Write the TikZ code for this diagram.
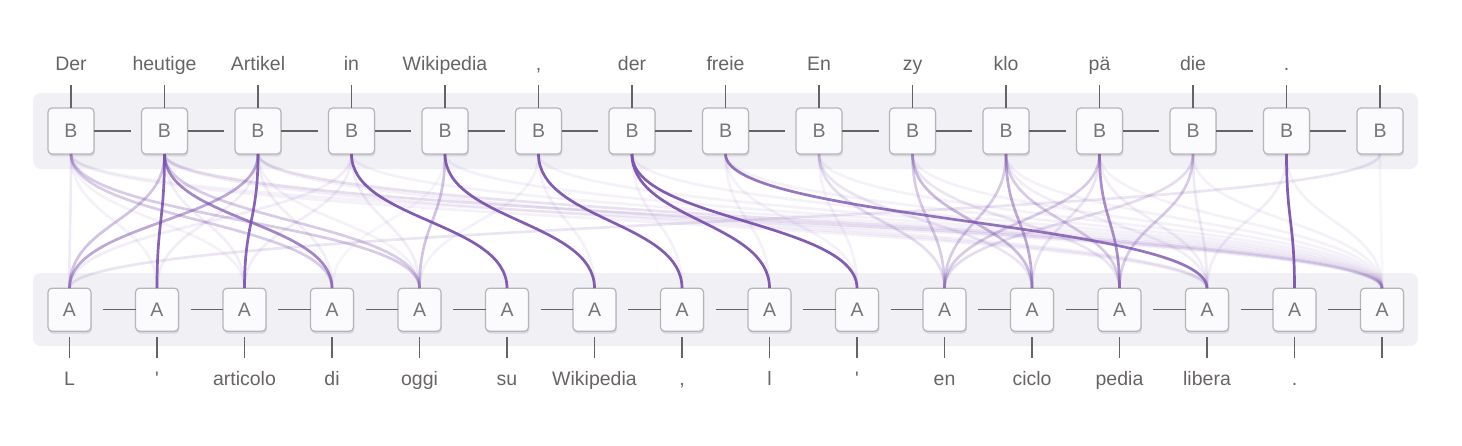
\documentclass[tikz,border=0pt]{standalone}
\usepackage{fontspec}
\newfontfamily\lab{Liberation Sans}
\usetikzlibrary{shadows}
\definecolor{txt}{RGB}{105,100,100}
\definecolor{boxtxt}{RGB}{118,118,118}
\definecolor{band}{RGB}{241,240,245}
\definecolor{boxfill}{RGB}{251,251,253}
\definecolor{boxline}{RGB}{182,182,184}
\definecolor{shadowc}{RGB}{216,215,221}
\definecolor{conn}{RGB}{100,100,100}
\definecolor{lnk}{RGB}{123,82,174}
\newcommand\ALink[3]{\draw[link, draw opacity=#3] (B#1.south) .. controls +(0,66) and +(0,-66) .. (A#2.north);}
\begin{document}
\begin{tikzpicture}[x=1pt,y=-1pt,
  bbox/.style={draw=boxline, fill=boxfill, line width=1.2pt, rounded corners=4pt,
    minimum width=46pt, minimum height=46pt, inner sep=0pt, outer sep=0pt,
    font=\lab\fontsize{19.5}{20}\selectfont, text=boxtxt,
    drop shadow={shadow xshift=0.8pt, shadow yshift=-2.4pt, fill=shadowc, opacity=1}},
  abox/.style={bbox, minimum width=43pt, minimum height=43pt},
  word/.style={font=\lab\fontsize{19.5}{20}\selectfont, text=txt, anchor=base, inner sep=0pt},
  wire/.style={draw=conn, line width=1.2pt},
  link/.style={draw=lnk, line width=2.7pt},
]
\useasboundingbox (0,0) rectangle (1462,445);
% bands
\fill[band, rounded corners=8pt] (33,93) rectangle (1418,169);
\fill[band, rounded corners=8pt] (33,273) rectangle (1418,346);
% boxes
\foreach \i in {1,...,15} {
  \node[bbox] (B\i) at (71+\i*93.5-93.5, 131) {B};
  \coordinate (tB\i) at (71+\i*93.5-93.5, 85);
}
\foreach \j in {1,...,16} {
  \node[abox] (A\j) at (69.5+\j*87.5-87.5, 309.7) {A};
  \coordinate (tA\j) at (69.5+\j*87.5-87.5, 358.3);
}
% words
\foreach \i/\w in {1/Der,2/heutige,3/Artikel,4/in,5/Wikipedia,6/{,},7/der,8/freie,9/En,10/zy,11/klo,12/pä,13/die,14/.} {
  \node[word] (wB\i) at (71+\i*93.5-93.5, 70.7) {\w};
}
\foreach \j/\w in {1/L,2/',3/articolo,4/di,5/oggi,6/su,7/Wikipedia,8/{,},9/l,10/',11/en,12/ciclo,13/pedia,14/libera,15/.} {
  \node[word] (wA\j) at (69.5+\j*87.5-87.5, 385) {\w};
}
% ticks and chain wires
\foreach \i in {1,...,15} { \draw[wire] (tB\i) -- (B\i.north); }
\foreach \j in {1,...,16} { \draw[wire, shorten <=6pt] (A\j.south) -- (tA\j); }
\foreach \i [evaluate=\i as \n using int(\i+1)] in {1,...,14} {
  \draw[wire, shorten >=11pt] (B\i.east) -- (B\n.west);
}
\foreach \j [evaluate=\j as \n using int(\j+1)] in {1,...,15} {
  \draw[wire, shorten <=12pt] (A\j.east) -- (A\n.west);
}
% faint links
\foreach \i in {1,...,14} { \ALink{\i}{16}{0.08} }
\ALink{15}{16}{0.05}
\ALink{1}{1}{0.12}\ALink{1}{2}{0.08}\ALink{1}{3}{0.08}\ALink{2}{3}{0.1}
\ALink{3}{2}{0.1}\ALink{3}{4}{0.1}\ALink{3}{5}{0.08}\ALink{4}{1}{0.1}
\ALink{4}{3}{0.1}\ALink{4}{5}{0.1}\ALink{5}{4}{0.06}\ALink{6}{5}{0.08}
\ALink{6}{7}{0.08}\ALink{7}{8}{0.08}\ALink{8}{9}{0.08}\ALink{8}{10}{0.08}
\ALink{9}{10}{0.08}\ALink{9}{11}{0.2}\ALink{9}{12}{0.15}\ALink{10}{13}{0.15}
\ALink{12}{12}{0.15}\ALink{13}{14}{0.12}\ALink{13}{11}{0.2}\ALink{15}{1}{0.15}
\ALink{12}{14}{0.1}\ALink{14}{14}{0.1}\ALink{11}{14}{0.1}\ALink{1}{14}{0.08}
\ALink{2}{14}{0.1}\ALink{3}{14}{0.08}\ALink{2}{16}{0.12}\ALink{3}{16}{0.1}
% medium links
\ALink{2}{1}{0.35}\ALink{1}{4}{0.3}\ALink{1}{5}{0.3}\ALink{2}{5}{0.3}
\ALink{5}{5}{0.35}\ALink{10}{11}{0.3}\ALink{11}{11}{0.3}\ALink{12}{11}{0.3}
\ALink{11}{13}{0.3}\ALink{13}{13}{0.3}\ALink{10}{12}{0.4}
\ALink{3}{1}{0.5}\ALink{11}{12}{0.5}
\ALink{2}{4}{0.7}\ALink{12}{13}{0.65}
% strong links
\ALink{8}{14}{0.8}
\ALink{2}{2}{0.9}\ALink{3}{3}{0.9}\ALink{4}{6}{0.95}\ALink{5}{7}{0.95}
\ALink{6}{8}{0.95}\ALink{7}{9}{0.95}\ALink{7}{10}{0.95}\ALink{14}{15}{0.95}
\end{tikzpicture}
\end{document}
